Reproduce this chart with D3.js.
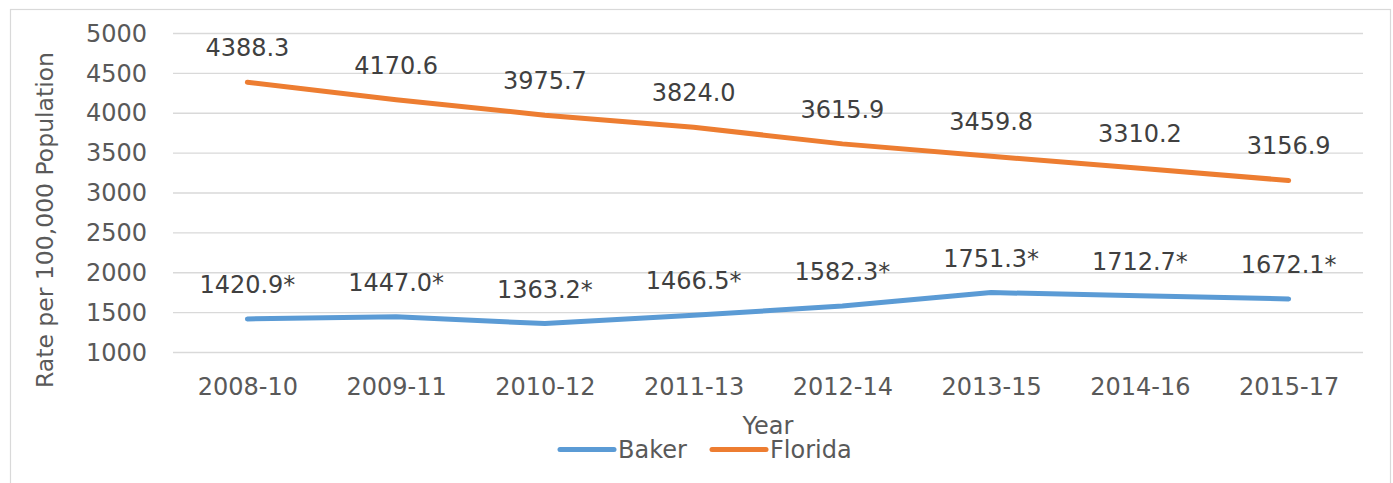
<!DOCTYPE html>
<html>
<head>
<meta charset="utf-8">
<script src="https://cdn.jsdelivr.net/npm/d3@7"></script>
<style>
  html, body { margin: 0; padding: 0; background: #fff; }
  svg { display: block; font-family: "DejaVu Sans", sans-serif; }
</style>
</head>
<body>
<div id="chart"></div>
<script>
// Chart data
const years = ["2008-10", "2009-11", "2010-12", "2011-13", "2012-14", "2013-15", "2014-16", "2015-17"];
const bakerValues = [1420.9, 1447.0, 1363.2, 1466.5, 1582.3, 1751.3, 1712.7, 1672.1];
const floridaValues = [4388.3, 4170.6, 3975.7, 3824.0, 3615.9, 3459.8, 3310.2, 3156.9];
const yTicks = [1000, 1500, 2000, 2500, 3000, 3500, 4000, 4500, 5000];

const series = [
    { name: "Baker", values: bakerValues, color: "#5B9BD5", suffix: "*" },
    { name: "Florida", values: floridaValues, color: "#ED7D31", suffix: "" }
];

const width = 1393, height = 483;
const plot = { left: 173, right: 1363, top: 33.5, bottom: 352.5 };

const svg = d3.select("#chart")
    .append("svg")
    .attr("width", width)
    .attr("height", height);

// Chart border
svg.append("rect")
    .attr("x", 10.5)
    .attr("y", 9.5)
    .attr("width", 1380)
    .attr("height", 490)
    .attr("fill", "#fff")
    .attr("stroke", "#D9D9D9")
    .attr("stroke-width", 1.2);

// Scales
const xScale = d3.scalePoint()
    .domain(years)
    .range([plot.left, plot.right])
    .padding(0.5);

const yScale = d3.scaleLinear()
    .domain([1000, 5000])
    .range([plot.bottom, plot.top]);

// Gridlines
svg.append("g")
    .selectAll("line")
    .data(yTicks)
    .join("line")
    .attr("x1", plot.left)
    .attr("x2", plot.right)
    .attr("y1", d => yScale(d))
    .attr("y2", d => yScale(d))
    .attr("stroke", "#D9D9D9")
    .attr("stroke-width", 1.3);

// Y axis labels
const yAxis = svg.append("g")
    .attr("transform", `translate(${plot.left},0)`)
    .call(d3.axisLeft(yScale).tickValues(yTicks).tickSize(0).tickPadding(26).tickFormat(d3.format("d")));
yAxis.select(".domain").remove();
yAxis.selectAll("text")
    .attr("fill", "#595959")
    .style("font-size", "24px")
    .style("font-family", "DejaVu Sans, sans-serif");

// X axis labels
const xAxis = svg.append("g")
    .attr("transform", `translate(0,${plot.bottom})`)
    .call(d3.axisBottom(xScale).tickSize(0).tickPadding(0));
xAxis.select(".domain").remove();
xAxis.selectAll("text")
    .attr("dy", null)
    .attr("y", 42.5)
    .attr("fill", "#595959")
    .style("font-size", "24px")
    .style("font-family", "DejaVu Sans, sans-serif");

// Axis titles
svg.append("text")
    .attr("transform", "translate(53,220) rotate(-90)")
    .attr("text-anchor", "middle")
    .attr("fill", "#595959")
    .style("font-size", "23.5px")
    .text("Rate per 100,000 Population");

svg.append("text")
    .attr("x", (plot.left + plot.right) / 2)
    .attr("y", 434)
    .attr("text-anchor", "middle")
    .attr("fill", "#595959")
    .style("font-size", "24px")
    .text("Year");

// Lines
const line = d3.line()
    .x((d, i) => xScale(years[i]))
    .y(d => yScale(d));

series.forEach(s => {
    svg.append("path")
        .datum(s.values)
        .attr("fill", "none")
        .attr("stroke", s.color)
        .attr("stroke-width", 5)
        .attr("stroke-linecap", "round")
        .attr("stroke-linejoin", "round")
        .attr("d", line);

    svg.append("g")
        .selectAll("text")
        .data(s.values)
        .join("text")
        .attr("x", (d, i) => xScale(years[i]))
        .attr("y", d => yScale(d) - 26)
        .attr("text-anchor", "middle")
        .attr("fill", "#404040")
        .style("font-size", "24px")
        .text(d => d.toFixed(1) + s.suffix);
});

// Legend
const legendItems = [
    { name: "Baker", color: "#5B9BD5", x: 560 },
    { name: "Florida", color: "#ED7D31", x: 712 }
];
const legend = svg.append("g");
legendItems.forEach(item => {
    legend.append("line")
        .attr("x1", item.x)
        .attr("x2", item.x + 54)
        .attr("y1", 449.5)
        .attr("y2", 449.5)
        .attr("stroke", item.color)
        .attr("stroke-width", 5)
        .attr("stroke-linecap", "round");
    legend.append("text")
        .attr("x", item.x + 58)
        .attr("y", 458)
        .attr("fill", "#595959")
        .style("font-size", "24px")
        .text(item.name);
});
</script>
</body>
</html>
